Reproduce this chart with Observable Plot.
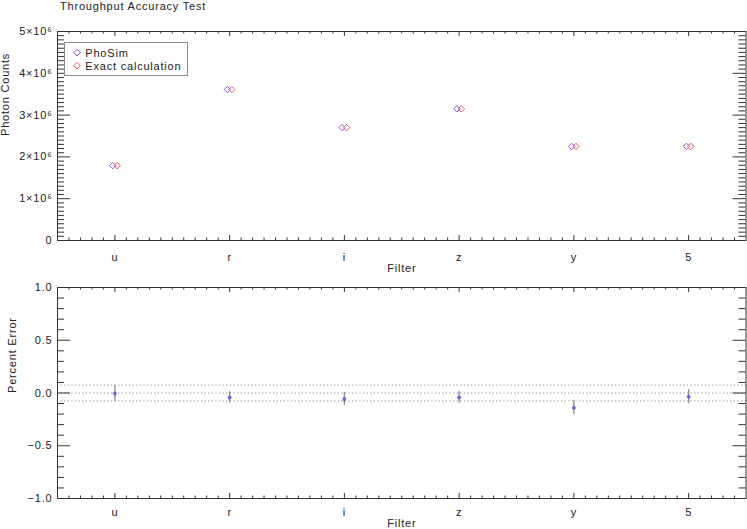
<!DOCTYPE html>
<html><head><meta charset="utf-8">
<script src="https://cdn.jsdelivr.net/npm/d3@7"></script>
<script src="https://cdn.jsdelivr.net/npm/@observablehq/plot@0.6"></script>
<style>
body{margin:0;background:#fff;}
#wrap{position:relative;width:747px;height:529px;overflow:hidden;background:#fff;font-family:"Liberation Sans",Arial,sans-serif;color:#222;}
#wrap svg{position:absolute;left:0;}
#title{position:absolute;left:60px;top:0px;font-size:11px;line-height:12px;letter-spacing:0.8px;white-space:nowrap;}
</style></head><body><div id="wrap"><div id="title">Throughput Accuracy Test</div></div>
<script>
// ---- data ----
const filters = ["u", "r", "i", "z", "y", "5"];
const seriesNames = ["PhoSim", "Exact calculation"];
const phosimCounts = [1.79e6, 3.61e6, 2.70e6, 3.15e6, 2.25e6, 2.25e6];
const exactCounts  = [1.79e6, 3.61e6, 2.70e6, 3.15e6, 2.25e6, 2.25e6];
const percentError = [-0.005, -0.042, -0.057, -0.042, -0.14, -0.035];
const errorBar     = [0.075, 0.053, 0.061, 0.056, 0.067, 0.067];
const refLines     = [-0.075, 0, 0.075];
const countTicks   = [0, 1e6, 2e6, 3e6, 4e6, 5e6];
const errTicks     = [-1, -0.5, 0, 0.5, 1];
const filterTicks  = [1, 2, 3, 4, 5, 6];

// ---- styles ----
const purple = "#7b55e6", red = "#f2545b", axisColor = "#333";
const W = 747, ML = 57, MR = 1.5, innerW = W - ML - MR;
const fontStyle = "font-family:'Liberation Sans',Arial,sans-serif;font-size:11px;letter-spacing:0.8px;color:#222;overflow:visible;";

const countMinor = d3.range(0, 51).map(i => i * 1e5).filter(v => v % 1e6 !== 0);
const errMinor = d3.range(-10, 11).filter(i => i % 5 !== 0).map(i => i / 10);
const xMinor = d3.range(6, 65).filter(i => i % 10 !== 0).map(i => i / 10);

const topRows = filters.map((f, i) => ({f, x: i + 1, phosim: phosimCounts[i], exact: exactCounts[i]}));
const errRows = filters.map((f, i) => ({f, x: i + 1, v: percentError[i], e: errorBar[i]}));

function frameTicks(innerH, yMajor, yMinor) {
  const s = {stroke: axisColor, strokeWidth: 1};
  return [
    Plot.tickX(filterTicks, {x: d => d, insetTop: innerH - 5, ...s}),
    Plot.tickX(xMinor, {x: d => d, insetTop: innerH - 2.5, ...s}),
    Plot.tickX(filterTicks, {x: d => d, insetBottom: innerH - 5, ...s}),
    Plot.tickX(xMinor, {x: d => d, insetBottom: innerH - 2.5, ...s}),
    Plot.tickY(yMajor, {y: d => d, insetRight: innerW - 13, ...s}),
    Plot.tickY(yMinor, {y: d => d, insetRight: innerW - 7, ...s}),
    Plot.tickY(yMajor, {y: d => d, insetLeft: innerW - 13, ...s}),
    Plot.tickY(yMinor, {y: d => d, insetLeft: innerW - 7, ...s}),
    Plot.frame({stroke: axisColor, strokeWidth: 1})
  ];
}

// ---- top panel ----
const topH = 282, topMT = 31, topMB = 42, topInner = topH - topMT - topMB;
const topChart = Plot.plot({
  width: W, height: topH, marginLeft: ML, marginRight: MR, marginTop: topMT, marginBottom: topMB,
  style: fontStyle,
  x: {domain: [0.5, 6.5]},
  y: {domain: [0, 5e6]},
  marks: [
    ...frameTicks(topInner, countTicks, countMinor),
    Plot.axisY(countTicks, {anchor: "left", tickSize: 0, tickPadding: 5, label: null,
      tickFormat: d => d === 0 ? "0" : `${d / 1e6}×10⁶`}),
    Plot.axisX(filterTicks, {anchor: "bottom", tickSize: 0, tickPadding: 13, label: null,
      tickFormat: d => filters[d - 1]}),
    Plot.text(["Photon Counts"], {text: d => d, frameAnchor: "left", rotate: -90, dx: -52}),
    Plot.text(["Filter"], {text: d => d, frameAnchor: "bottom", dy: 31}),
    Plot.dot(topRows, {x: "x", y: "phosim", symbol: "diamond2", r: 2.9, stroke: purple, strokeWidth: 1, dx: -2.2}),
    Plot.dot(topRows, {x: "x", y: "exact", symbol: "diamond2", r: 2.9, stroke: red, strokeWidth: 1, dx: 2.2})
  ]
});
topChart.style.top = "0px";

// ---- bottom panel ----
const botTop = 282, botH = 247, botMT = 5, botMB = 31, botInner = botH - botMT - botMB;
const botChart = Plot.plot({
  width: W, height: botH, marginLeft: ML, marginRight: MR, marginTop: botMT, marginBottom: botMB,
  style: fontStyle,
  x: {domain: [0.5, 6.5]},
  y: {domain: [-1, 1]},
  marks: [
    Plot.ruleY(refLines, {y: d => d, stroke: "#8a8a8a", strokeWidth: 1, strokeDasharray: "1.2,2.4"}),
    ...frameTicks(botInner, errTicks, errMinor),
    Plot.axisY(errTicks, {anchor: "left", tickSize: 0, tickPadding: 5, label: null, tickFormat: d3.format(".1f")}),
    Plot.axisX(filterTicks, {anchor: "bottom", tickSize: 0, tickPadding: 10, label: null,
      tickFormat: d => filters[d - 1]}),
    Plot.text(["Percent Error"], {text: d => d, frameAnchor: "left", rotate: -90, dx: -45}),
    Plot.text(["Filter"], {text: d => d, frameAnchor: "bottom", dy: 28}),
    Plot.ruleX(errRows, {x: "x", y1: d => d.v - d.e, y2: d => d.v + d.e, stroke: "#8c8c8c", strokeWidth: 1.3}),
    Plot.dot(errRows, {x: "x", y: "v", r: 1.7, fill: purple, stroke: purple, strokeOpacity: 0.5, strokeWidth: 0.8})
  ]
});
botChart.style.top = botTop + "px";

const wrap = document.getElementById("wrap");
wrap.append(topChart, botChart);

// ---- legend ----
const colors = [purple, red];
const leg = d3.select(wrap).append("svg")
  .attr("width", 126).attr("height", 36)
  .style("left", "64px").style("top", "42px")
  .style("font-family", "'Liberation Sans',Arial,sans-serif").style("font-size", "11px")
  .style("letter-spacing", "0.8px");
leg.append("rect").attr("x", 0.5).attr("y", 0.5).attr("width", 123).attr("height", 33)
  .attr("fill", "#fff").attr("stroke", "#8a8a8a");
seriesNames.forEach((name, i) => {
  const cy = 10.7 + i * 13;
  leg.append("path")
    .attr("d", `M13,${cy - 3.3}L16.3,${cy}L13,${cy + 3.3}L9.7,${cy}Z`)
    .attr("fill", "none").attr("stroke", colors[i]);
  leg.append("text").attr("x", 21.3).attr("y", cy + 3.8).attr("fill", "#222").text(name);
});
</script>
</body></html>
